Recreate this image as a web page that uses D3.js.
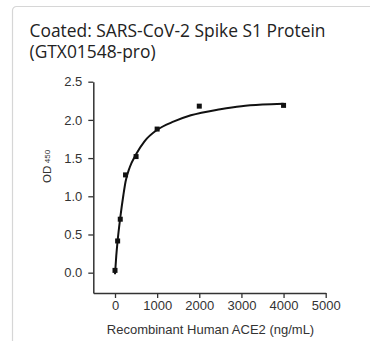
<!DOCTYPE html>
<html>
<head>
<meta charset="utf-8">
<script src="https://cdn.jsdelivr.net/npm/d3@7"></script>
<style>
  html, body { margin: 0; padding: 0; background: #fff; }
  svg { display: block; }
</style>
</head>
<body>
<svg id="chart" width="370" height="341"></svg>
<script>
// ACE2 binding ELISA: concentration (ng/mL) vs OD450
const concentrations = [0, 62.5, 125, 250, 500, 1000, 2000, 4000];
const odValues = [0.03, 0.415, 0.70, 1.28, 1.52, 1.88, 2.18, 2.19];

// fitted saturation curve, sampled along its length
const fitX = [0, 30, 62.5, 125, 200, 250, 350, 500, 700, 1000, 1400, 1800, 2500, 3000, 3500, 4000];
const fitY = [-0.02, 0.22, 0.42, 0.72, 1.02, 1.19, 1.38, 1.55, 1.72, 1.87, 1.98, 2.06, 2.14, 2.18, 2.20, 2.21];

const xTicks = [0, 1000, 2000, 3000, 4000, 5000];
const yTicks = [0.0, 0.5, 1.0, 1.5, 2.0, 2.5];

const titleLines = ["Coated: SARS-CoV-2 Spike S1 Protein", "(GTX01548-pro)"];
const xTitle = "Recombinant Human ACE2 (ng/mL)";

const svg = d3.select("#chart");

// card frame
svg.append("rect")
  .attr("x", 12.5).attr("y", 6.5)
  .attr("width", 380).attr("height", 360)
  .attr("rx", 4)
  .attr("fill", "#fff")
  .attr("stroke", "#d6d6d6")
  .attr("stroke-width", 1.2);

// title
svg.append("g")
  .selectAll("text")
  .data(titleLines)
  .join("text")
  .attr("x", 29.5)
  .attr("y", (d, i) => 37 + i * 21)
  .attr("font-family", "'Open Sans', sans-serif")
  .attr("font-size", 17.4)
  .attr("fill", "#222")
  .text(d => d);

const x = d3.scaleLinear().domain([-515, 5000]).range([93.3, 325.7]);
const y = d3.scaleLinear().domain([-0.266, 2.5]).range([293, 81.7]);

const font = "'Liberation Sans', Arial, sans-serif";

// y axis
const yAxis = svg.append("g")
  .attr("transform", `translate(${x.range()[0]},0)`)
  .call(d3.axisLeft(y).tickValues(yTicks).tickFormat(d3.format(".1f")).tickSize(5).tickPadding(6).tickSizeOuter(0));

// x axis
const xAxis = svg.append("g")
  .attr("transform", `translate(0,${y.range()[0]})`)
  .call(d3.axisBottom(x).tickValues(xTicks).tickFormat(d3.format("d")).tickSize(5).tickPadding(3).tickSizeOuter(0));

[xAxis, yAxis].forEach(g => {
  g.select(".domain").attr("stroke", "#333").attr("stroke-width", 1.5);
  g.selectAll(".tick line").attr("stroke", "#333").attr("stroke-width", 1.3);
  g.selectAll(".tick text")
    .attr("font-family", font)
    .attr("font-size", 13)
    .attr("fill", "#333");
});

// axis titles
svg.append("text")
  .attr("x", (93.3 + 325.7) / 2 + 1)
  .attr("y", 334)
  .attr("text-anchor", "middle")
  .attr("font-family", font)
  .attr("font-size", 13)
  .attr("fill", "#333")
  .text(xTitle);

const yLabel = svg.append("text")
  .attr("transform", "translate(51,183) rotate(-90)")
  .attr("font-family", font)
  .attr("font-size", 11.5)
  .attr("fill", "#333");
yLabel.append("tspan").text("OD");
yLabel.append("tspan").attr("dx", 2.5).attr("dy", -1.5).attr("font-size", 8).text("450");

// fitted curve
const fitPoints = fitX.map((v, i) => [v, fitY[i]]);
svg.append("path")
  .datum(fitPoints)
  .attr("fill", "none")
  .attr("stroke", "#111")
  .attr("stroke-width", 2)
  .attr("d", d3.line().x(d => x(d[0])).y(d => y(d[1])).curve(d3.curveMonotoneX));

// measured points
const sq = 5;
svg.append("g")
  .selectAll("rect")
  .data(concentrations.map((c, i) => [c, odValues[i]]))
  .join("rect")
  .attr("x", d => x(d[0]) - sq / 2)
  .attr("y", d => y(d[1]) - sq / 2)
  .attr("width", sq)
  .attr("height", sq)
  .attr("fill", "#111");
</script>
</body>
</html>
